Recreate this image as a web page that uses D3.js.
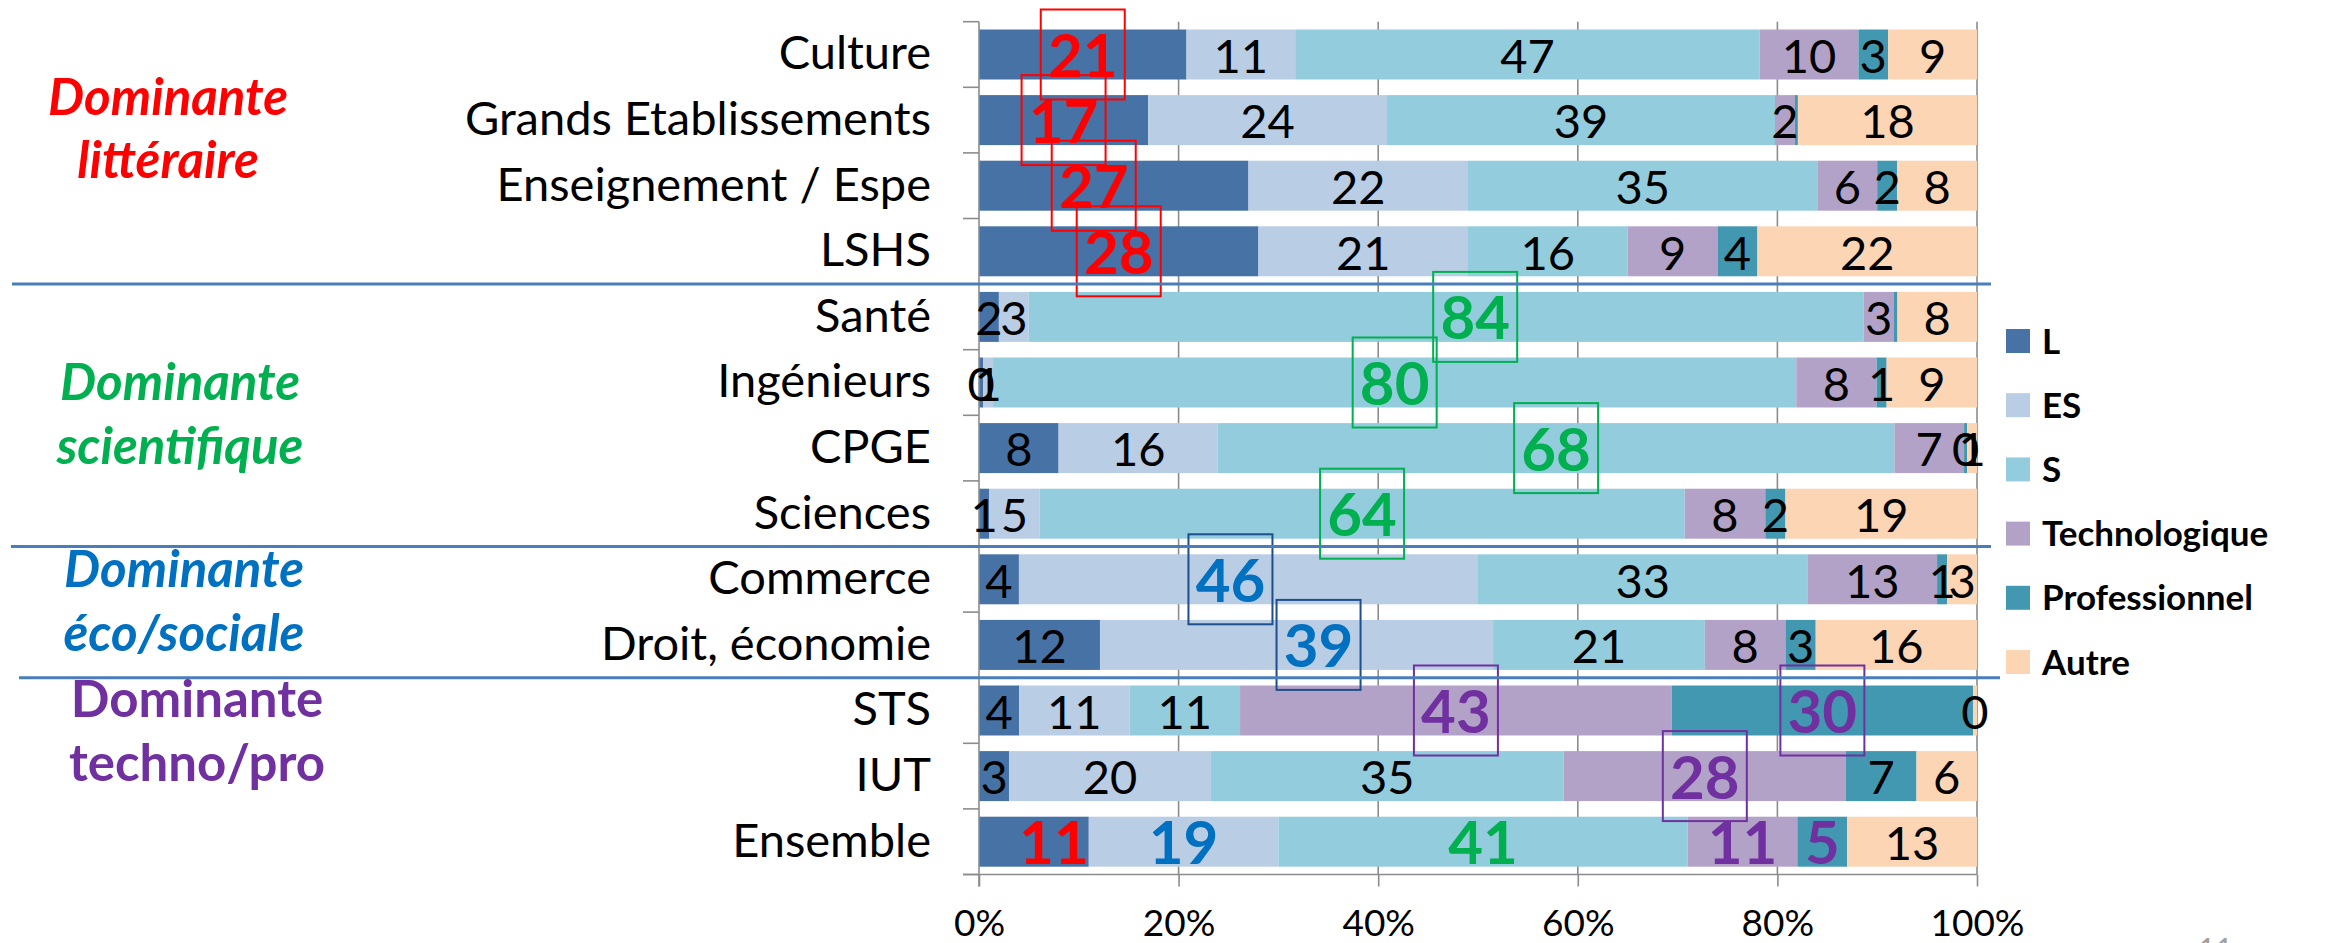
<!DOCTYPE html>
<html><head><meta charset="utf-8">
<script src="https://cdn.jsdelivr.net/npm/d3@7"></script>
<style>
body{margin:0;background:#fff}
svg{display:block}
text{font-family:Lato,"Open Sans",sans-serif}
</style>
</head><body>
<svg id="c" width="2328" height="943"></svg>
<script>
// ---------- DATA ----------
const categories = ["Culture","Grands Etablissements","Enseignement / Espe","LSHS","Santé","Ingénieurs","CPGE","Sciences","Commerce","Droit, économie","STS","IUT","Ensemble"];
const series = ["L","ES","S","Technologique","Professionnel","Autre"];
const valL     = [21, 17, 27, 28,  2, 0.4,  8,  1,  4, 12,  4,  3, 11];
const valES    = [11, 24, 22, 21,  3, 1,   16,  5, 46, 39, 11, 20, 19];
const valS     = [47, 39, 35, 16, 84, 80,  68, 64, 33, 21, 11, 35, 41];
const valTech  = [10,  2,  6,  9,  3,  8,   7,  8, 13,  8, 43, 28, 11];
const valPro   = [ 3, 0.3, 2,  4, 0.4, 1, 0.3,  2,  1,  3, 30,  7,  5];
const valAutre = [ 9, 18,  8, 22,  8,  9,   1, 19,  3, 16, 0.4, 6, 13];
const xTicks = [0, 0.2, 0.4, 0.6, 0.8, 1];
const hiddenLabels = [["Grands Etablissements","Professionnel"],["Santé","Professionnel"]];
const groupLine1 = ["Dominante","Dominante","Dominante","Dominante"];
const groupLine2 = ["littéraire","scientifique","éco/sociale","techno/pro"];
const groupFirst = ["Culture","Santé","Commerce","STS"];
const groupLast  = ["LSHS","Sciences","Droit, économie","IUT"];
// highlighted labels: [category, series, colour key, boxed]
const highlights = [
  ["Culture","L","lit",true],["Grands Etablissements","L","lit",true],["Enseignement / Espe","L","lit",true],["LSHS","L","lit",true],
  ["Santé","S","sci",true],["Ingénieurs","S","sci",true],["CPGE","S","sci",true],["Sciences","S","sci",true],
  ["Commerce","ES","eco",true],["Droit, économie","ES","eco",true],
  ["STS","Technologique","tec",true],["STS","Professionnel","tec",true],["IUT","Technologique","tec",true],
  ["Ensemble","L","lit",false],["Ensemble","ES","eco",false],["Ensemble","S","sci",false],["Ensemble","Technologique","tec",false],["Ensemble","Professionnel","tec",false]
];

// ---------- STYLE ----------
const seriesColors = ["#4672A6","#B9CDE5","#93CDDD","#B3A2C7","#4298B0","#FCD5B5"];
const hlColor = {lit:"#FF0000", sci:"#00B050", eco:"#0070C0", tec:"#7030A0"};
const boxColor = {lit:"#FF0000", sci:"#00B050", eco:"#1F4E8C", tec:"#7030A0"};
const groupColors = ["#FF0000","#00B050","#0070C0","#7030A0"];
const groupItalic = [true,true,true,false];
const groupX = [168,180,184,197];
const groupDy = [-38,-15,-25,-26];
const sepX = [[12,1991],[11,1991],[19,2000]];
const nudge = {"Enseignement / Espe|L":-20, "Santé|S":29, "Commerce|ES":-18, "Droit, économie|ES":22, "Ensemble|L":20};
const gridColor = "#8C8C8C";

const svg = d3.select("#c");
svg.append("rect").attr("width",2328).attr("height",943).attr("fill","#fff");

const x = d3.scaleLinear().domain([0,1]).range([979,1977]);
const y = d3.scaleBand().domain(categories).range([21.7,874.5]).paddingInner(0.238).paddingOuter(0.119);
const color = d3.scaleOrdinal().domain(series).range(seriesColors);

const rows = categories.map((c,i)=>({cat:c, "L":valL[i], "ES":valES[i], "S":valS[i], "Technologique":valTech[i], "Professionnel":valPro[i], "Autre":valAutre[i]}));
const stacked = d3.stack().keys(series).offset(d3.stackOffsetExpand)(rows);

const gap = (y.step()-y.bandwidth())/2;
const top0 = y(categories[0]) - gap;
const bot0 = y(categories[categories.length-1]) + y.bandwidth() + gap;
const boundary = c => y(c) - gap;

// gridlines
svg.append("g").selectAll("line").data(xTicks.filter(t=>t>0)).join("line")
  .attr("x1",d=>x(d)).attr("x2",d=>x(d)).attr("y1",top0).attr("y2",bot0)
  .attr("stroke",gridColor).attr("stroke-width",1.6);

// bars
const gBars = svg.append("g");
stacked.forEach(s=>{
  gBars.append("g").attr("fill",color(s.key)).selectAll("rect").data(s).join("rect")
    .attr("x",d=>x(d[0])).attr("width",d=>Math.max(0,x(d[1])-x(d[0])))
    .attr("y",d=>y(d.data.cat)).attr("height",y.bandwidth());
});

// axes
const gx = svg.append("g").attr("transform",`translate(0,${bot0})`)
  .call(d3.axisBottom(x).tickValues(xTicks).tickFormat(d3.format(".0%")).tickSize(12).tickSizeOuter(0).tickPadding(23));
gx.select(".domain").remove();
gx.selectAll(".tick line").attr("stroke",gridColor).attr("stroke-width",1.6);
gx.selectAll(".tick text").attr("font-size",37).attr("fill","#000").attr("dy","0.71em");
svg.append("line").attr("x1",963).attr("x2",x(1)).attr("y1",bot0).attr("y2",bot0).attr("stroke",gridColor).attr("stroke-width",1.6);
svg.append("line").attr("x1",x(0)).attr("x2",x(0)).attr("y1",top0).attr("y2",bot0+12).attr("stroke",gridColor).attr("stroke-width",1.6);
const bounds = categories.map(boundary).concat([bot0]);
svg.append("g").selectAll("line").data(bounds).join("line")
  .attr("x1",963).attr("x2",x(0)).attr("y1",d=>d).attr("y2",d=>d)
  .attr("stroke",gridColor).attr("stroke-width",1.6);

// category labels
svg.append("g").selectAll("text").data(categories).join("text")
  .attr("x",931).attr("y",d=>y(d)+y.bandwidth()/2+14.8)
  .attr("text-anchor","end").attr("font-size",47).attr("fill","#000").text(d=>d);

// data labels
const hlMap = new Map(highlights.map(h=>[h[0]+"|"+h[1],h]));
const hidden = new Set(hiddenLabels.map(h=>h[0]+"|"+h[1]));
const gLab = svg.append("g");
stacked.forEach(s=>{
  s.forEach((d,i)=>{
    const cat = d.data.cat, key = cat+"|"+s.key;
    if(hidden.has(key)) return;
    const v = d.data[s.key];
    const cx = (x(d[0])+x(d[1]))/2 + (nudge[key]||0);
    const cy = y(cat)+y.bandwidth()/2;
    const h = hlMap.get(key);
    if(h){
      if(h[3]){
        gLab.append("rect").attr("x",cx-42).attr("y",cy-45).attr("width",84).attr("height",90)
          .attr("fill","none").attr("stroke",boxColor[h[2]]).attr("stroke-width",2);
      }
      gLab.append("text").attr("x",cx).attr("y",cy+22.5).attr("text-anchor","middle")
        .attr("font-size",60).attr("font-weight","bold").attr("fill",hlColor[h[2]]).text(Math.round(v));
    } else {
      gLab.append("text").attr("x",cx).attr("y",cy+18.3).attr("text-anchor","middle")
        .attr("font-size",47).attr("fill","#000").text(Math.round(v));
    }
  });
});

// group separators
const sepY = [boundary(groupFirst[1]), boundary(groupFirst[2]), boundary(groupFirst[3])];
svg.append("g").selectAll("line").data(sepY).join("line")
  .attr("x1",(d,i)=>sepX[i][0]).attr("x2",(d,i)=>sepX[i][1]).attr("y1",d=>d).attr("y2",d=>d)
  .attr("stroke","#4A7EBB").attr("stroke-width",3);

// group labels
groupLine1.forEach((l1,i)=>{
  const mid = (boundary(groupFirst[i]) + y(groupLast[i])+y.bandwidth()+gap)/2;
  const b1 = mid + groupDy[i];
  const t = svg.append("text").attr("text-anchor","middle").attr("font-size",51).attr("font-weight","bold")
    .attr("font-style",groupItalic[i]?"italic":"normal").attr("fill",groupColors[i]);
  t.append("tspan").attr("x",groupX[i]).attr("y",b1).text(l1);
  t.append("tspan").attr("x",groupX[i]).attr("y",b1+63.5).text(groupLine2[i]);
});

// legend
const lg = svg.append("g");
series.forEach((s,i)=>{
  const cy = 341 + i*64.2;
  lg.append("rect").attr("x",2006).attr("y",cy-12).attr("width",24).attr("height",24).attr("fill",color(s));
  lg.append("text").attr("x",2042).attr("y",cy+12.5).attr("font-size",35).attr("font-weight","bold").attr("fill","#000").text(s);
});

// page number (cut off)
svg.append("text").attr("x",2198).attr("y",960).attr("font-size",30).attr("fill","#A0A0A0").text("11");
</script>
</body></html>
